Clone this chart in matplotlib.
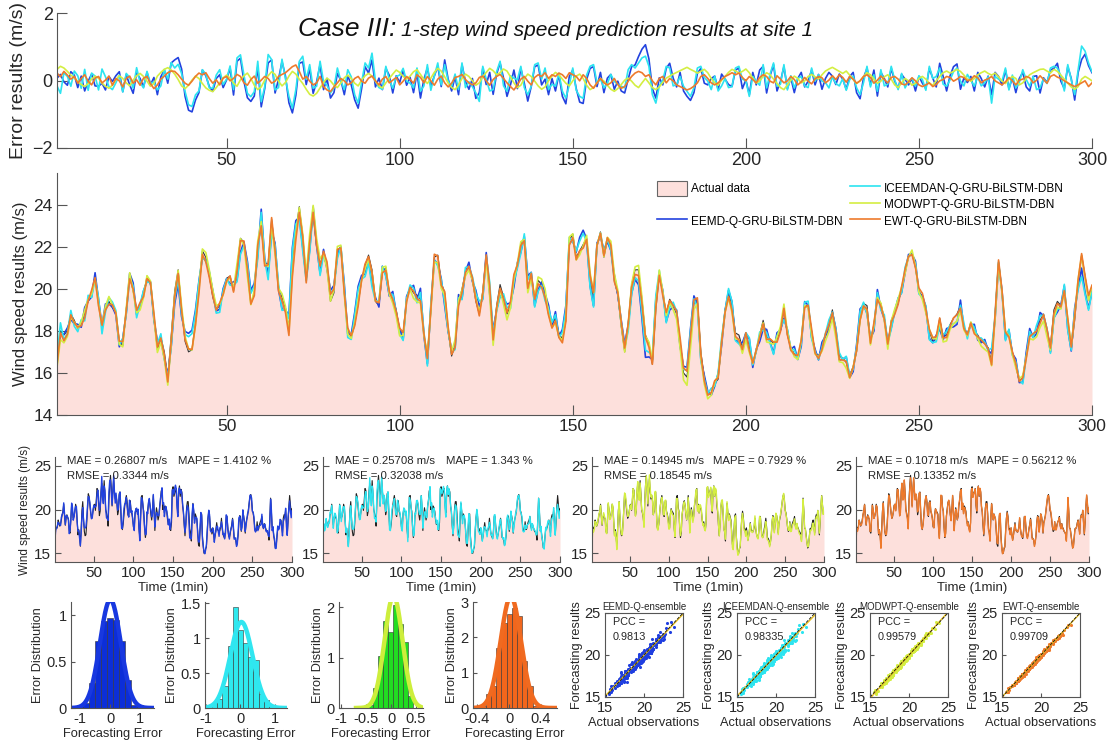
import numpy as np
import matplotlib
matplotlib.use('Agg')
import matplotlib.pyplot as plt
from matplotlib.patches import Patch
from matplotlib.lines import Line2D

plt.rcParams['font.family'] = ['Liberation Sans', 'DejaVu Sans']

# actual wind speed (m/s), 300 one-minute steps
actual = [
    16.6, 18.0, 17.8, 18.0, 18.8, 18.5, 18.1, 18.3, 18.8, 19.4,
    19.8, 20.6, 19.3, 18.2, 19.0, 19.4, 19.1, 18.9, 17.5, 17.3,
    19.0, 20.6, 19.9, 19.0, 19.2, 19.7, 20.6, 20.2, 18.6, 17.1,
    17.7, 17.0, 15.8, 17.8, 19.9, 20.9, 19.0, 17.5, 17.0, 17.1,
    18.4, 20.0, 21.8, 21.5, 20.6, 19.6, 19.0, 19.2, 19.8, 20.5,
    20.6, 19.9, 21.0, 22.4, 22.2, 20.8, 19.3, 19.8, 22.0, 23.0,
    21.2, 21.2, 23.3, 21.8, 20.0, 19.6, 19.1, 18.1, 21.0, 22.8,
    23.9, 22.5, 20.4, 22.2, 23.5, 22.0, 21.2, 21.6, 21.0, 19.4,
    19.8, 21.8, 22.0, 19.8, 18.0, 17.7, 18.3, 19.3, 20.4, 21.1,
    21.6, 20.9, 19.4, 19.2, 20.8, 21.0, 19.8, 19.5, 19.0, 18.0,
    17.9, 19.5, 20.1, 19.8, 19.7, 19.5, 17.8, 16.8, 19.0, 21.5,
    21.6, 20.3, 19.8, 18.0, 16.8, 17.3, 19.3, 20.0, 20.8, 21.0,
    20.4, 19.4, 18.8, 19.9, 21.6, 20.0, 17.6, 19.2, 20.2, 19.6,
    18.8, 19.2, 20.4, 21.0, 22.1, 22.4, 20.0, 20.6, 19.6, 20.4,
    20.2, 19.8, 18.8, 18.3, 18.6, 17.9, 17.6, 18.5, 22.3, 22.6,
    21.5, 21.8, 22.1, 22.4, 20.5, 19.6, 22.0, 22.7, 21.5, 22.3,
    22.0, 20.4, 19.7, 18.2, 17.0, 18.3, 20.2, 20.9, 20.9, 19.5,
    17.8, 17.4, 16.4, 19.0, 20.7, 19.8, 18.8, 19.5, 19.2, 18.8,
    17.5, 16.0, 15.8, 17.5, 19.3, 19.5, 17.0, 15.8, 15.0, 15.0,
    15.5, 15.7, 17.5, 19.0, 19.8, 19.2, 17.9, 17.8, 17.2, 17.9,
    17.2, 16.5, 17.0, 17.8, 18.5, 17.7, 17.6, 17.4, 17.6, 18.0,
    19.0, 17.8, 17.2, 16.9, 16.7, 17.5, 19.2, 19.2, 18.0, 17.0,
    16.8, 17.2, 17.8, 18.3, 19.0, 18.0, 16.8, 16.7, 16.5, 15.9,
    16.3, 17.0, 18.5, 19.3, 19.2, 17.5, 18.3, 19.5, 19.3, 18.6,
    17.3, 18.5, 18.9, 19.3, 20.0, 20.8, 21.5, 21.7, 21.0, 19.9,
    19.6, 18.9, 18.0, 17.5, 17.6, 18.6, 17.7, 17.8, 18.3, 18.6,
    18.8, 19.2, 18.2, 17.8, 18.4, 18.0, 17.8, 17.5, 17.4, 17.2,
    16.5, 18.8, 21.3, 19.8, 17.9, 17.8, 17.0, 16.3, 15.6, 15.8,
    16.8, 17.8, 17.8, 18.0, 18.5, 18.8, 18.0, 17.3, 19.0, 19.4,
    19.2, 19.9, 18.5, 17.1, 18.5, 20.3, 21.6, 20.6, 19.5, 20.1,
]

# error = actual - forecast, per model
err_eemd = [
    0.07, 0.18, -0.04, -0.14, 0.26, 0.16, -0.21, 0.13, -0.31, -0.02,
    0.19, -0.16, -0.17, -0.08, -0.28, 0.12, -0.03, 0.14, 0.26, -0.33,
    0.17, -0.13, -0.38, 0.22, 0.06, -0.19, 0.24, -0.13, 0.09, -0.42,
    0.11, 0.31, -0.08, 0.52, 0.61, 0.68, 0.34, -0.47, -0.88, -0.93,
    -0.58, -0.36, 0.31, 0.14, -0.18, -0.32, 0.06, 0.17, -0.21, 0.02,
    0.37, -0.43, 0.57, 0.66, -0.02, -0.51, -0.62, -0.46, 0.41, -0.78,
    -0.24, 0.52, 0.61, -0.37, 0.04, 0.56, 0.13, -0.66, -0.96, -0.44,
    0.51, 0.55, -0.12, 0.36, -0.38, -0.04, 0.47, -0.27, 0.06, -0.52,
    -0.36, 0.21, 0.01, -0.42, 0.14, -0.13, -0.57, -0.82, -0.24, 0.41,
    0.22, 0.61, -0.19, 0.07, -0.27, 0.36, 0.15, -0.37, 0.14, -0.06,
    0.31, -0.14, 0.09, -0.36, 0.23, -0.52, 0.04, 0.37, -0.16, 0.13,
    0.42, -0.18, 0.61, 0.04, -0.31, 0.11, -0.42, 0.47, -0.03, -0.26,
    0.06, -0.53, -0.36, 0.36, -0.12, 0.24, -0.41, 0.19, 0.52, 0.07,
    -0.47, -0.13, 0.31, -0.24, 0.36, -0.08, -0.61, -0.18, 0.41, 0.46,
    -0.13, 0.04, -0.42, 0.06, -0.31, 0.18, -0.47, -0.69, 0.12, 0.31,
    -0.24, -0.64, -0.68, 0.03, 0.36, 0.41, -0.18, 0.24, -0.36, 0.07,
    0.18, -0.26, -0.02, -0.31, -0.37, 0.04, 0.41, 0.46, 0.71, 0.93,
    1.06, 0.64, -0.24, -0.52, 0.08, -0.13, 0.36, 0.51, 0.07, -0.19,
    0.24, -0.31, -0.47, -0.59, -0.36, 0.21, 0.36, -0.08, -0.13, 0.06,
    0.13, -0.26, 0.19, 0.04, -0.12, -0.18, 0.31, 0.37, -0.24, 0.02,
    -0.42, 0.24, -0.13, 0.31, 0.42, -0.37, 0.14, 0.47, -0.31, -0.03,
    0.41, -0.24, 0.08, -0.36, 0.06, 0.24, -0.19, -0.02, 0.31, -0.13,
    0.18, -0.26, 0.06, 0.24, 0.13, -0.12, 0.19, 0.04, -0.26, 0.12,
    0.24, -0.36, -0.54, 0.08, 0.36, -0.13, 0.31, -0.46, 0.24, 0.06,
    -0.19, 0.36, -0.02, -0.24, 0.18, 0.04, -0.13, 0.06, -0.31, 0.12,
    -0.08, -0.24, 0.36, 0.07, -0.19, 0.51, 0.12, -0.31, 0.14, 0.41,
    0.49, -0.26, 0.08, -0.06, 0.12, -0.31, 0.24, 0.06, -0.19, 0.13,
    -0.42, 0.24, 0.12, -0.13, 0.31, -0.24, 0.08, -0.36, 0.06, 0.24,
    -0.19, -0.31, 0.12, 0.14, -0.37, 0.08, -0.06, 0.31, 0.36, 0.51,
    -0.02, -0.24, 0.41, 0.06, -0.58, 0.24, 0.62, 0.78, 0.44, 0.23,
]
err_iceemdan = [
    -0.16, -0.38, 0.23, 0.12, -0.17, 0.28, 0.14, -0.23, 0.33, -0.29,
    0.22, 0.13, -0.28, 0.34, 0.11, -0.18, -0.27, -0.07, 0.16, -0.34,
    0.21, 0.09, -0.23, 0.38, -0.06, -0.22, 0.27, -0.09, -0.04, -0.28,
    -0.16, 0.33, 0.04, 0.53, 0.37, 0.48, 0.21, -0.33, -0.72, -0.77,
    -0.43, -0.31, 0.32, 0.18, -0.22, -0.23, 0.16, 0.32, -0.12, 0.04,
    0.43, -0.27, 0.67, 0.76, 0.16, -0.38, -0.48, -0.33, 0.57, -0.63,
    -0.19, 0.77, 0.62, -0.28, -0.21, 0.63, 0.05, -0.47, -0.82, -0.27,
    0.57, 0.72, 0.03, 0.47, -0.23, -0.17, 0.57, -0.03, -0.14, -0.37,
    -0.22, 0.37, -0.01, -0.27, 0.32, 0.11, -0.42, -0.67, -0.06, 0.52,
    0.37, 0.81, -0.02, -0.21, -0.26, 0.42, 0.03, -0.23, 0.12, 0.16,
    0.36, -0.02, -0.08, -0.22, 0.37, -0.32, -0.16, 0.47, -0.29, 0.13,
    0.52, -0.13, 0.47, -0.02, -0.17, 0.19, -0.27, 0.52, -0.21, -0.04,
    -0.18, -0.37, -0.62, 0.42, 0.04, -0.31, -0.27, 0.26, 0.57, -0.16,
    -0.32, 0.14, 0.07, 0.02, 0.42, -0.21, -0.42, -0.17, 0.47, 0.52,
    0.04, 0.37, -0.27, -0.11, -0.17, 0.21, -0.32, -0.52, -0.13, 0.37,
    -0.29, -0.47, -0.53, 0.16, 0.42, 0.47, -0.07, 0.04, -0.22, -0.09,
    0.18, -0.03, -0.11, -0.17, -0.22, 0.32, 0.47, 0.37, 0.52, 0.67,
    0.72, 0.42, -0.42, -0.67, -0.16, 0.01, 0.42, 0.37, -0.16, -0.12,
    0.12, -0.17, -0.32, -0.47, -0.22, 0.37, 0.42, 0.09, -0.02, -0.27,
    0.13, -0.31, -0.16, 0.06, -0.21, -0.18, 0.37, 0.42, 0.04, -0.01,
    -0.47, 0.12, -0.02, -0.14, 0.47, -0.22, 0.19, 0.52, -0.17, -0.11,
    0.47, -0.28, 0.14, -0.22, 0.06, 0.12, -0.16, -0.21, 0.37, -0.02,
    0.17, -0.02, -0.06, -0.22, 0.11, -0.09, -0.16, 0.06, -0.29, 0.03,
    0.13, -0.22, -0.42, -0.06, 0.42, -0.19, 0.17, -0.32, 0.32, -0.16,
    -0.11, 0.42, 0.02, -0.27, 0.21, -0.22, -0.02, 0.06, -0.17, 0.14,
    0.03, -0.29, 0.42, 0.06, 0.12, 0.37, -0.11, -0.17, 0.02, 0.26,
    0.37, -0.02, -0.16, 0.18, 0.01, -0.17, 0.12, -0.16, -0.07, 0.11,
    -0.67, 0.12, 0.04, -0.02, 0.37, -0.28, 0.16, -0.22, -0.06, 0.32,
    0.03, -0.17, 0.12, -0.27, -0.22, 0.06, -0.09, 0.37, 0.42, 0.37,
    0.14, -0.31, 0.47, 0.02, -0.42, 0.32, 1.02, 0.87, 0.52, 0.26,
]
err_modwpt = [
    0.33, 0.42, 0.37, 0.27, 0.16, 0.08, -0.03, -0.12, -0.18, -0.09,
    0.04, 0.13, 0.07, -0.08, -0.17, -0.23, -0.14, 0.02, 0.14, 0.06,
    -0.07, -0.16, 0.01, 0.14, 0.21, 0.12, -0.02, -0.17, -0.09, 0.13,
    0.24, 0.33, 0.38, 0.31, 0.19, 0.03, -0.16, -0.24, -0.14, 0.01,
    0.13, 0.06, -0.09, -0.22, -0.29, -0.33, -0.21, -0.07, 0.08, 0.16,
    0.07, -0.08, -0.17, 0.02, 0.14, 0.22, 0.06, -0.14, -0.27, -0.19,
    0.01, 0.14, 0.26, 0.18, -0.02, -0.16, -0.06, 0.13, 0.27, 0.19,
    0.04, -0.09, -0.26, -0.41, -0.46, -0.38, -0.22, -0.06, 0.07, -0.01,
    -0.14, -0.21, -0.07, 0.08, 0.16, 0.06, -0.08, -0.16, 0.01, 0.14,
    0.21, 0.13, -0.02, -0.16, -0.22, -0.07, 0.06, 0.19, 0.31, 0.24,
    0.12, 0.04, 0.13, 0.26, 0.32, 0.18, 0.03, -0.09, 0.07, 0.24,
    0.36, 0.28, 0.11, -0.08, -0.21, -0.27, -0.13, 0.06, 0.19, 0.12,
    -0.01, -0.14, -0.07, 0.12, 0.24, 0.36, 0.29, 0.17, 0.23, 0.34,
    0.28, 0.11, -0.07, -0.21, -0.14, 0.06, 0.19, 0.12, -0.02, -0.16,
    -0.26, -0.19, -0.01, 0.13, 0.24, 0.17, 0.04, -0.08, -0.16, -0.01,
    0.13, 0.19, 0.06, -0.14, -0.27, -0.21, -0.07, 0.06, -0.02, -0.14,
    -0.26, -0.32, -0.24, -0.12, 0.01, 0.07, -0.02, -0.14, -0.21, -0.07,
    0.06, -0.07, -0.21, -0.27, -0.19, -0.06, 0.07, 0.13, 0.19, 0.24,
    0.29, 0.34, 0.39, 0.33, 0.28, 0.22, 0.27, 0.33, 0.23, 0.06,
    -0.07, -0.14, 0.01, 0.12, 0.24, 0.33, 0.28, 0.22, 0.27, 0.34,
    0.23, 0.06, -0.08, -0.01, 0.12, 0.23, 0.17, 0.04, -0.09, -0.21,
    -0.27, -0.13, 0.01, 0.13, 0.06, -0.07, -0.01, 0.12, 0.18, 0.11,
    0.04, 0.17, 0.28, 0.34, 0.39, 0.33, 0.27, 0.21, 0.28, 0.16,
    0.03, -0.09, -0.01, 0.12, 0.23, 0.17, 0.04, -0.08, -0.02, 0.11,
    0.17, 0.04, -0.13, -0.21, -0.07, 0.06, -0.01, -0.14, -0.08, 0.06,
    0.12, 0.04, -0.08, -0.14, -0.01, 0.12, 0.23, 0.28, 0.22, 0.27,
    0.33, 0.27, 0.16, 0.04, -0.02, 0.06, 0.17, 0.23, 0.28, 0.21,
    0.16, 0.22, 0.11, -0.02, -0.09, 0.04, 0.12, 0.06, -0.13, -0.07,
    0.06, 0.17, 0.23, 0.28, 0.33, 0.34, 0.28, 0.22, 0.33, 0.27,
    0.16, 0.04, -0.08, -0.19, -0.26, -0.18, 0.04, 0.12, 0.06, -0.01,
]
err_ewt = [
    0.22, 0.11, 0.27, 0.16, 0.04, 0.12, -0.08, 0.06, 0.17, -0.02,
    -0.13, 0.07, 0.12, -0.07, 0.01, 0.13, -0.14, 0.06, -0.01, -0.19,
    0.06, 0.13, -0.08, 0.02, -0.14, 0.07, 0.12, -0.09, -0.24, -0.13,
    0.04, 0.13, 0.23, 0.28, 0.27, 0.17, 0.04, -0.08, -0.14, -0.02,
    0.12, 0.22, 0.17, 0.23, 0.06, -0.08, 0.02, -0.13, 0.07, 0.12,
    -0.01, 0.06, 0.18, 0.12, -0.07, -0.14, 0.03, 0.13, -0.08, 0.01,
    0.12, 0.06, -0.08, -0.02, 0.12, 0.18, 0.23, 0.32, 0.41, 0.46,
    0.27, 0.04, 0.12, -0.02, -0.13, -0.07, 0.12, -0.18, -0.28, -0.33,
    -0.19, -0.07, 0.06, -0.01, -0.13, -0.07, 0.06, 0.12, -0.02, -0.08,
    0.07, 0.13, -0.01, -0.13, 0.04, 0.12, -0.07, 0.01, 0.09, -0.13,
    -0.02, 0.12, 0.03, -0.08, 0.17, 0.09, -0.07, 0.12, -0.01, -0.14,
    0.04, 0.13, -0.07, -0.19, -0.08, 0.09, 0.12, 0.18, 0.03, -0.07,
    -0.13, -0.07, 0.09, 0.13, -0.01, -0.14, 0.03, 0.12, 0.18, 0.06,
    -0.07, -0.18, -0.28, -0.13, 0.04, 0.12, -0.02, -0.13, 0.09, 0.17,
    0.12, 0.23, 0.06, 0.17, 0.12, 0.22, 0.17, 0.06, 0.23, 0.17,
    0.12, -0.01, 0.17, 0.06, -0.13, -0.23, -0.07, 0.06, -0.07, -0.13,
    -0.07, 0.06, -0.12, -0.23, -0.18, -0.02, 0.12, 0.22, 0.27, 0.23,
    0.12, 0.17, -0.01, -0.13, 0.06, 0.12, -0.07, 0.06, -0.01, -0.13,
    -0.18, -0.23, -0.28, -0.24, -0.17, -0.07, 0.12, 0.17, 0.06, -0.07,
    -0.13, -0.07, 0.03, 0.12, 0.17, 0.23, 0.17, 0.22, 0.09, -0.01,
    0.12, 0.03, -0.07, 0.09, 0.17, 0.12, -0.02, -0.07, 0.14, 0.04,
    -0.07, -0.01, 0.12, 0.03, -0.13, -0.04, 0.09, -0.02, -0.10, 0.05,
    0.12, 0.08, -0.07, 0.01, 0.14, 0.03, 0.17, 0.09, -0.05, 0.12,
    0.04, -0.08, -0.01, 0.12, 0.17, 0.09, -0.08, 0.01, 0.13, 0.03,
    -0.07, 0.09, 0.12, 0.04, -0.10, -0.13, -0.04, 0.08, -0.01, -0.13,
    -0.18, -0.13, -0.07, -0.18, -0.12, -0.01, 0.03, 0.12, 0.09, -0.02,
    0.04, 0.12, 0.09, -0.01, 0.03, 0.14, 0.08, -0.07, 0.01, 0.05,
    0.12, -0.01, -0.07, -0.13, -0.04, 0.09, -0.01, -0.13, 0.01, 0.04,
    0.12, 0.08, -0.07, 0.01, 0.14, 0.03, -0.08, 0.12, 0.17, 0.10,
    0.06, -0.01, -0.07, -0.13, -0.18, -0.13, -0.07, -0.01, -0.18, -0.07,
]

models = ['EEMD-Q-GRU-BiLSTM-DBN', 'ICEEMDAN-Q-GRU-BiLSTM-DBN',
          'MODWPT-Q-GRU-BiLSTM-DBN', 'EWT-Q-GRU-BiLSTM-DBN']
ensemble_titles = ['EEMD-Q-ensemble', 'ICEEMDAN-Q-ensemble', 'MODWPT-Q-ensemble', 'EWT-Q-ensemble']
mae = ['0.26807', '0.25708', '0.14945', '0.10718']
mape = ['1.4102', '1.343', '0.7929', '0.56212']
rmse = ['0.3344', '0.32038', '0.18545', '0.13352']
pcc = ['0.9813', '0.98335', '0.99579', '0.99709']

colors = ['#2242df', '#2ce4f0', '#d4ee42', '#ee7a2c']
hist_colors = ['#0c2ed8', '#2ee9ee', '#22dc22', '#f2661c']
fit_colors = ['#1838e0', '#30e6f0', '#cdee3c', '#f06a20']
pink = '#fde0dc'
axc = '#555555'
txtc = '#262626'

t = np.arange(1, 301)
actual = np.array(actual)
errors = [np.array(e) for e in (err_eemd, err_iceemdan, err_modwpt, err_ewt)]
preds = [actual - e for e in errors]

W, H = 1118, 749
fig = plt.figure(figsize=(W / 100, H / 100), dpi=100)


def add_ax(l, t_, r, b):
    return fig.add_axes([l / W, 1 - b / H, (r - l) / W, (b - t_) / H])


def style(ax, size, ln=4, box=False):
    for s in ['top', 'right']:
        ax.spines[s].set_visible(box)
    for s in ax.spines.values():
        s.set_color(axc)
        s.set_linewidth(0.8)
    ax.tick_params(direction='in', length=ln, width=0.8, color=axc,
                   labelcolor=txtc, labelsize=size, pad=3)


# top: error series
ax = add_ax(57, 13, 1092, 148)
for e, c in zip(errors, colors):
    ax.plot(t, e, color=c, lw=1.2)
ax.set_xlim(1, 300)
ax.set_ylim(-2, 2)
ax.set_yticks([-2, 0, 2])
ax.set_xticks([50, 100, 150, 200, 250, 300])
ax.set_ylabel('Error results (m/s)', fontsize=14, color=txtc, labelpad=4)
style(ax, 13, ln=7)
fig.text(298 / W, 1 - 36 / H, 'Case III:', fontsize=19, style='italic', color='#111111')
fig.text(401 / W, 1 - 36 / H, '1-step wind speed prediction results at site 1',
         fontsize=15, style='italic', color='#111111')

# middle: all models against actual
ax = add_ax(57, 173, 1092, 415)
ax.fill_between(t, actual, 0, color=pink, lw=0)
ax.plot(t, actual, color='#333333', lw=0.8)
for p, c in zip(preds, colors):
    ax.plot(t, p, color=c, lw=1.2)
ax.set_xlim(1, 300)
ax.set_ylim(14, 25.5)
ax.set_yticks([14, 16, 18, 20, 22, 24])
ax.set_xticks([50, 100, 150, 200, 250, 300])
ax.set_ylabel('Wind speed results (m/s)', fontsize=12, color=txtc)
style(ax, 12.5, ln=7)
handles = [Patch(fc=pink, ec='#666666', lw=0.8), Line2D([], [], color='none'),
           Line2D([], [], color=colors[0], lw=1.2), Line2D([], [], color=colors[1], lw=1.2),
           Line2D([], [], color=colors[2], lw=1.2), Line2D([], [], color=colors[3], lw=1.2)]
labels = ['Actual data', '', models[0], models[1], models[2], models[3]]
ax.legend(handles, labels, ncol=2, frameon=False, fontsize=8.5, loc='upper left',
          bbox_to_anchor=(646 / W, 1 - 170 / H), bbox_transform=fig.transFigure,
          handlelength=2.6, handleheight=1.6, columnspacing=0.6, labelspacing=0.1,
          handletextpad=0.3)

# single model panels
ts_pos = [(55, 292), (323, 560), (592, 824), (856, 1089)]
for i, (l, r) in enumerate(ts_pos):
    ax = add_ax(l, 457, r, 562)
    ax.fill_between(t, actual, 0, color=pink, lw=0)
    ax.plot(t, actual, color='#222222', lw=0.8)
    ax.plot(t, preds[i], color=colors[i], lw=1.0)
    ax.set_xlim(1, 300)
    ax.set_ylim(14, 26)
    ax.set_yticks([15, 20, 25])
    ax.set_xticks([50, 100, 150, 200, 250, 300])
    ax.set_xlabel('Time (1min)', fontsize=9.5, color=txtc, labelpad=1)
    if i == 0:
        ax.set_ylabel('Wind speed results (m/s)', fontsize=8.5, color=txtc, labelpad=2)
    style(ax, 11)
    ax.text(0.05, 0.965, 'MAE = ' + mae[i] + ' m/s', transform=ax.transAxes,
            fontsize=8.2, color=txtc, va='center')
    ax.text(0.52, 0.965, 'MAPE = ' + mape[i] + ' %', transform=ax.transAxes,
            fontsize=8.2, color=txtc, va='center')
    ax.text(0.05, 0.82, 'RMSE = ' + rmse[i] + ' m/s', transform=ax.transAxes,
            fontsize=8.2, color=txtc, va='center')

# error histograms with normal fit
hist_pos = [(71, 154), (205, 287), (339, 423), (473, 557)]
hist_xlim = [(-1.3, 1.45), (-1.03, 1.35), (-1.04, 0.64), (-0.45, 0.6)]
hist_ylim = [1.14, 1.52, 2.1, 3.0]
hist_xticks = [[-1, 0, 1], [-1, 0, 1], [-1, -0.5, 0, 0.5], [-0.4, 0, 0.4]]
hist_yticks = [[0, 0.5, 1], [0, 0.5, 1, 1.5], [0, 1, 2], [0, 1, 2, 3]]
hist_bins = [np.arange(-1.1, 1.2, 0.2), np.arange(-0.825, 1.1, 0.15),
             np.arange(-0.555, 0.56, 0.1), np.arange(-0.355, 0.5, 0.065)]
fit_range = [(-1.3, 1.45), (-1.03, 1.35), (-0.7, 0.6), (-0.45, 0.6)]
for i, (l, r) in enumerate(hist_pos):
    ax = add_ax(l, 602, r, 708)
    e = errors[i]
    ax.hist(e, bins=hist_bins[i], density=True, color=hist_colors[i],
            edgecolor='#333333', linewidth=0.4)
    xs = np.linspace(fit_range[i][0], fit_range[i][1], 200)
    mu, sd = e.mean(), e.std()
    ax.plot(xs, np.exp(-0.5 * ((xs - mu) / sd) ** 2) / (sd * np.sqrt(2 * np.pi)),
            color=fit_colors[i], lw=3.2)
    ax.set_xlim(*hist_xlim[i])
    ax.set_ylim(0, hist_ylim[i])
    ax.set_xticks(hist_xticks[i])
    ax.set_xticklabels([('%g' % v) for v in hist_xticks[i]])
    ax.set_yticks(hist_yticks[i])
    ax.set_yticklabels([('%g' % v) for v in hist_yticks[i]])
    ax.set_xlabel('Forecasting Error', fontsize=9.3, color=txtc, labelpad=1)
    ax.set_ylabel('Error Distribution', fontsize=9.2, color=txtc, labelpad=2)
    style(ax, 10.5, ln=3)

# scatter actual vs forecast
sc_pos = [(605, 683), (737, 815), (870, 948), (1002, 1080)]
for i, (l, r) in enumerate(sc_pos):
    ax = add_ax(l, 613, r, 697)
    ax.scatter(actual, preds[i], s=5, color=colors[i] if i != 0 else '#1f3ee0', lw=0)
    k, b0 = np.polyfit(actual, preds[i], 1)
    ax.plot([15, 25], [15 * k + b0, 25 * k + b0], color='#e8c020', lw=1)
    ax.plot([15, 25], [15, 25], color='#111111', lw=0.6, ls='--')
    ax.set_xlim(15, 25)
    ax.set_ylim(15, 25)
    ax.set_xticks([15, 20, 25])
    ax.set_yticks([15, 20, 25])
    ax.set_title(ensemble_titles[i], fontsize=7, color=txtc, pad=2)
    ax.set_xlabel('Actual observations', fontsize=9.2, color=txtc, labelpad=1)
    ax.set_ylabel('Forecasting results', fontsize=9.2, color=txtc, labelpad=1)
    style(ax, 10.5, ln=3, box=True)
    ax.text(0.1, 0.89, 'PCC =', transform=ax.transAxes, fontsize=7.8, color=txtc, va='center')
    ax.text(0.1, 0.71, pcc[i], transform=ax.transAxes, fontsize=7.8, color=txtc, va='center')

fig.savefig('out.png', dpi=100)
